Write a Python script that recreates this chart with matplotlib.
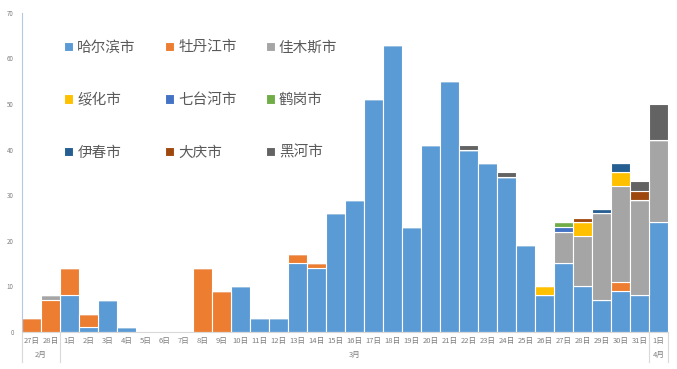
import numpy as np
import matplotlib.pyplot as plt

plt.rcParams['font.family'] = ['Noto Sans CJK SC', 'DejaVu Sans']

days = ['27日', '28日'] + ['%d日' % d for d in range(1, 32)] + ['1日']
months = ['2月', '3月', '4月']
month_len = [2, 31, 1]

cities = ['哈尔滨市', '牡丹江市', '佳木斯市', '绥化市', '七台河市', '鹤岗市',
          '伊春市', '大庆市', '黑河市']
colors = ['#5B9BD5', '#ED7D31', '#A5A5A5', '#FFC000', '#4472C4', '#70AD47',
          '#255E91', '#9E480E', '#636363']

n = len(days)
harbin = np.zeros(n); mudanjiang = np.zeros(n); jiamusi = np.zeros(n)
suihua = np.zeros(n); qitaihe = np.zeros(n); hegang = np.zeros(n)
yichun = np.zeros(n); daqing = np.zeros(n); heihe = np.zeros(n)

harbin[:] = [0, 0, 8, 1, 7, 1, 0, 0, 0, 0, 0, 10, 3, 3, 15, 14, 26, 29, 51, 63,
             23, 41, 55, 40, 37, 34, 19, 8, 15, 10, 7, 9, 8, 24]
mudanjiang[[0, 1, 2, 3, 9, 10, 14, 15, 31]] = [3, 7, 6, 3, 14, 9, 2, 1, 2]
jiamusi[[1, 28, 29, 30, 31, 32, 33]] = [1, 7, 11, 19, 21, 21, 18]
suihua[[27, 29, 31]] = [2, 3, 3]
qitaihe[28] = 1
hegang[28] = 1
yichun[[30, 31]] = [1, 2]
daqing[[29, 32]] = [1, 2]
heihe[[23, 25, 32, 33]] = [1, 1, 2, 8]

series = [harbin, mudanjiang, jiamusi, suihua, qitaihe, hegang, yichun, daqing, heihe]

fig = plt.figure(figsize=(6.77, 3.69), dpi=100)
ax = fig.add_axes([0.0325, 0.101, 0.954, 0.864])

x = np.arange(n)
bottom = np.zeros(n)
handles = []
for vals, name, c in zip(series, cities, colors):
    h = ax.bar(x, vals, width=1.0, bottom=bottom, color=c, edgecolor='white',
               linewidth=0.8, label=name)
    handles.append(h)
    bottom += vals

ax.set_xlim(-0.5, n - 0.5)
ax.set_ylim(0, 70)
ax.set_yticks(range(0, 71, 10))
ax.tick_params(axis='y', labelsize=4.5, colors='#7F7F7F', length=0, pad=6)
ax.set_xticks(x)
ax.set_xticklabels(days, fontsize=5.5, color='#7F7F7F')
ax.tick_params(axis='x', length=0, pad=4)
for s in ['top', 'right']:
    ax.spines[s].set_visible(False)
ax.spines['left'].set_color('#B4C7E7')
ax.spines['bottom'].set_color('#D9D9D9')

# month row below day labels
trans = ax.get_xaxis_transform()
start = 0
edges = [-0.5]
for m, ln in zip(months, month_len):
    mid = start + (ln - 1) / 2
    ax.text(mid, -0.072, m, transform=trans, ha='center', va='center',
            fontsize=5.5, color='#7F7F7F', clip_on=False)
    start += ln
    edges.append(start - 0.5)
for e in edges:
    ax.plot([e, e], [0, -0.095], transform=trans, color='#D9D9D9',
            linewidth=0.8, clip_on=False)

# legend filled row by row
order = [0, 3, 6, 1, 4, 7, 2, 5, 8]
ax.legend([handles[i] for i in order], [cities[i] for i in order],
          ncol=3, loc='upper left', bbox_to_anchor=(0.045, 0.955), frameon=False,
          fontsize=10.5, labelcolor='#595959', handlelength=0.6, handleheight=0.6,
          handletextpad=0.3, columnspacing=2.0, labelspacing=2.65)

plt.savefig('out.png', dpi=100)
